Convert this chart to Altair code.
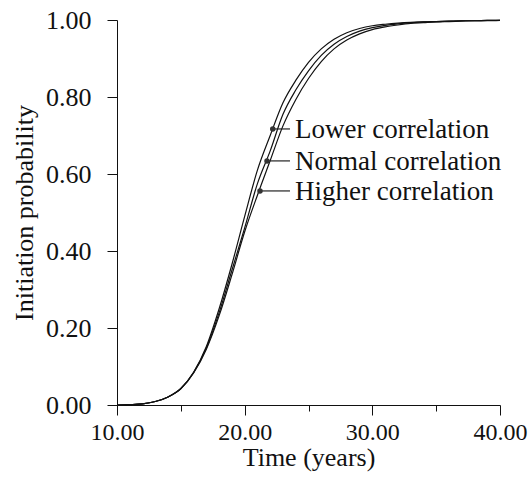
import altair as alt
import pandas as pd

# ---- data ----
time = list(range(10, 41))
lower = [0.000, 0.001, 0.003, 0.009, 0.021, 0.043, 0.085, 0.152, 0.250, 0.365,
         0.490, 0.610, 0.700, 0.785, 0.843, 0.890, 0.925, 0.950, 0.967, 0.978,
         0.985, 0.989, 0.992, 0.994, 0.995, 0.996, 0.997, 0.998, 0.998, 0.999, 0.999]
normal = [0.000, 0.001, 0.003, 0.009, 0.021, 0.043, 0.084, 0.148, 0.240, 0.350,
          0.460, 0.575, 0.660, 0.755, 0.818, 0.868, 0.908, 0.937, 0.957, 0.971,
          0.980, 0.986, 0.990, 0.993, 0.995, 0.996, 0.997, 0.998, 0.998, 0.999, 0.999]
higher = [0.000, 0.001, 0.003, 0.009, 0.021, 0.042, 0.083, 0.145, 0.232, 0.338,
          0.450, 0.545, 0.635, 0.725, 0.793, 0.848, 0.892, 0.925, 0.948, 0.964,
          0.975, 0.982, 0.987, 0.991, 0.993, 0.995, 0.996, 0.997, 0.998, 0.998, 0.999]

series_names = ["Lower correlation", "Normal correlation", "Higher correlation"]
marker_t = [22.2, 21.75, 21.2]
marker_p = [0.717, 0.634, 0.556]
leader_end_t = [23.55, 23.55, 23.55]
label_t = [23.95, 23.95, 23.95]

x_ticks = [10, 15, 20, 25, 30, 35, 40]
y_ticks = [0.0, 0.1, 0.2, 0.3, 0.4, 0.5, 0.6, 0.7, 0.8, 0.9, 1.0]

# ---- tables ----
rows = []
for name, vals in zip(series_names, [lower, normal, higher]):
    for t, p in zip(time, vals):
        rows.append({"series": name, "t": t, "p": p})
curves = pd.DataFrame(rows)
ann = pd.DataFrame({"series": series_names, "mt": marker_t, "mp": marker_p,
                    "le": leader_end_t, "lt": label_t})

FONT = "Liberation Serif"
xscale = alt.Scale(domain=[10, 40], nice=False, zero=False)
yscale = alt.Scale(domain=[0, 1], nice=False)

xaxis = alt.Axis(values=x_ticks, format=".2f",
                 labelExpr="datum.value % 10 == 0 ? datum.label : ''",
                 tickSize={"expr": "datum.value % 10 == 0 ? 10 : 6"},
                 grid=False, domainColor="#111", tickColor="#111",
                 labelFont=FONT, labelFontSize=24, labelColor="#111",
                 labelPadding=5, titleFont=FONT, titleFontSize=26,
                 titleFontWeight="normal", titleColor="#111", titlePadding=0,
                 labelFlush=False, labelOverlap=False)
yaxis = alt.Axis(values=y_ticks, format=".2f",
                 labelExpr="round(datum.value * 10) % 2 == 0 ? datum.label : ''",
                 tickSize={"expr": "round(datum.value * 10) % 2 == 0 ? 10 : 5"},
                 grid=False, domainColor="#111", tickColor="#111",
                 labelFont=FONT, labelFontSize=26, labelColor="#111",
                 labelPadding=16, titleFont=FONT, titleFontSize=26,
                 titleFontWeight="normal", titleColor="#111", titlePadding=8,
                 labelFlush=False, labelOverlap=False)

lines = alt.Chart(curves).mark_line(color="#111", strokeWidth=1.2,
                                    interpolate="monotone").encode(
    x=alt.X("t:Q", scale=xscale, axis=xaxis, title="Time (years)"),
    y=alt.Y("p:Q", scale=yscale, axis=yaxis, title="Initiation probability"),
    detail="series:N",
)

leaders = alt.Chart(ann).mark_rule(color="#222", strokeWidth=1.2).encode(
    x=alt.X("mt:Q", scale=xscale), x2="le:Q",
    y=alt.Y("mp:Q", scale=yscale),
)

points = alt.Chart(ann).mark_point(filled=True, color="#333", size=30,
                                   opacity=1).encode(
    x=alt.X("mt:Q", scale=xscale), y=alt.Y("mp:Q", scale=yscale),
)

labels = alt.Chart(ann).mark_text(align="left", baseline="middle", font=FONT,
                                  fontSize=27, color="#111", dy=1).encode(
    x=alt.X("lt:Q", scale=xscale), y=alt.Y("mp:Q", scale=yscale),
    text="series:N",
)

chart = alt.layer(lines, leaders, points, labels).properties(
    width=383, height=385,
    autosize=alt.AutoSizeParams(type="none"),
    padding={"left": 117, "top": 20, "right": 28, "bottom": 76},
    background="white",
).configure_view(stroke=None)

chart.save("out.html", embed_options={"renderer": "svg", "actions": False})
